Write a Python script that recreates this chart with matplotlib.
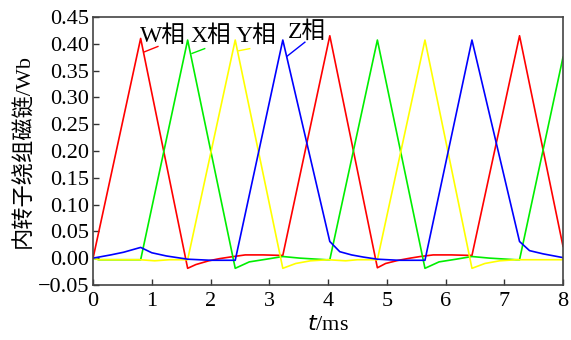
import numpy as np
import matplotlib
matplotlib.use('Agg')
import matplotlib.pyplot as plt
from matplotlib.ticker import FuncFormatter

plt.rcParams['font.family'] = ['Liberation Serif', 'Noto Sans CJK SC']
plt.rcParams['axes.unicode_minus'] = True

# W phase (red)
t_w = [0, 0.81, 1.61, 1.75, 1.97, 2.15, 2.33, 2.59, 2.9, 3.23, 4.03, 4.84, 4.98, 5.2, 5.4,
       5.57, 5.79, 6.1, 6.45, 7.26, 8.0]
y_w = [0, 0.410, -0.019, -0.012, -0.005, -0.001, 0.002, 0.006, 0.006, 0.005, 0.415, -0.018,
       -0.010, -0.004, 0.000, 0.003, 0.006, 0.006, 0.005, 0.415, 0.022]

# X phase (green)
t_x = [0, 0.1, 0.81, 1.61, 2.42, 2.66, 2.95, 3.23, 3.52, 3.97, 4.03, 4.84, 5.65, 5.89, 6.18,
       6.45, 6.75, 7.2, 7.26, 8.0]
y_x = [0, -0.003, -0.003, 0.407, -0.019, -0.007, -0.002, 0.003, 0.000, -0.003, -0.003, 0.407,
       -0.019, -0.007, -0.002, 0.003, 0.000, -0.003, -0.003, 0.375]

# Y phase (yellow)
t_y = [0, 0.1, 0.8, 1.05, 1.3, 1.61, 2.42, 3.23, 3.45, 3.7, 4.0, 4.3, 4.5, 4.84, 5.65, 6.45,
       6.67, 6.92, 7.2, 7.5, 8.0]
y_y = [0, -0.003, -0.003, -0.005, -0.003, -0.003, 0.407, -0.019, -0.010, -0.005, -0.003,
       -0.005, -0.003, -0.003, 0.407, -0.019, -0.010, -0.005, -0.003, -0.003, -0.003]

# Z phase (blue)
t_z = [0, 0.3, 0.52, 0.81, 1.0, 1.25, 1.61, 2.0, 2.42, 3.23, 4.03, 4.2, 4.4, 4.6, 4.84, 5.2,
       5.65, 6.45, 7.26, 7.43, 7.66, 7.95, 8.0]
y_z = [0, 0.006, 0.011, 0.020, 0.010, 0.004, -0.002, -0.004, -0.004, 0.407, 0.031, 0.012,
       0.006, 0.002, -0.002, -0.004, -0.004, 0.407, 0.031, 0.014, 0.008, 0.002, 0.001]

phase_names = ['W相', 'X相', 'Y相', 'Z相']
colors = ['#ff0000', '#00ee00', '#ffff00', '#0000ff']

fig = plt.figure(figsize=(5.71, 3.40), dpi=100)
ax = fig.add_axes([0.163, 0.162, 0.823, 0.788])

for t, y, c in zip([t_w, t_x, t_y, t_z], [y_w, y_x, y_y, y_z], colors):
    ax.plot(t, y, color=c, lw=1.2)

fs = 16
# label text position, leader line start/end
label_pos = [(0.80, 0.415), (1.655, 0.415), (2.42, 0.415), (3.31, 0.422)]
leaders = [((0.875, 0.385), (1.104, 0.395)),
           ((1.684, 0.382), (1.90, 0.391)),
           ((2.48, 0.387), (2.667, 0.391)),
           ((3.305, 0.377), (3.606, 0.403))]
for s, (tx, ty), (p0, p1), c in zip(phase_names, label_pos, leaders, colors):
    ax.text(tx, ty, s, fontsize=fs + 1, ha='left', va='center')
    ax.plot([p0[0], p1[0]], [p0[1], p1[1]], color=c, lw=1.0)

ax.set_xlim(0, 8)
ax.set_ylim(-0.05, 0.45)
ax.set_xticks(np.arange(0, 9, 1))
ax.set_yticks(np.arange(-0.05, 0.451, 0.05))
ax.yaxis.set_major_formatter(FuncFormatter(lambda v, p: f'{v:.2f}'.replace('-', '\u2212')))
ax.tick_params(direction='in', length=4, width=1, labelsize=fs, colors='#333333',
               labelcolor='black', top=False, right=False, pad=3)
ax.tick_params(axis='x', pad=5)
for sp in ax.spines.values():
    sp.set_color('#444444')
    sp.set_linewidth(1.2)

ax.set_xlabel('$t$/ms', fontsize=fs, labelpad=4)
ax.set_ylabel('内转子绕组磁链/Wb', fontsize=fs, labelpad=2)

fig.savefig('out.png', dpi=100)
